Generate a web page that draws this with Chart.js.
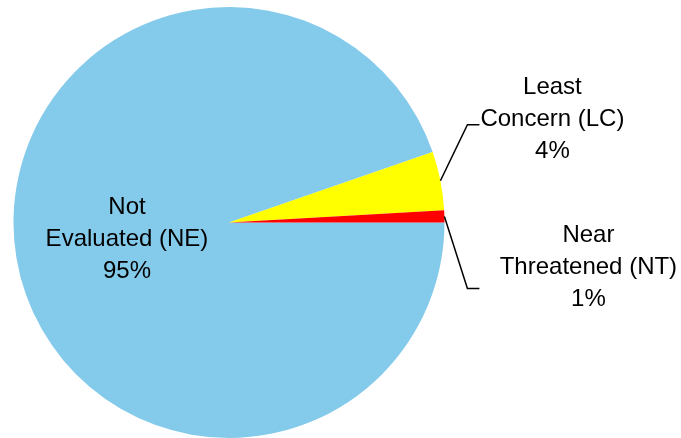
<!DOCTYPE html>
<html>
<head>
<meta charset="utf-8">
<script src="https://cdn.jsdelivr.net/npm/chart.js@4"></script>
<style>
  html, body { margin: 0; padding: 0; background: #fff; }
  #wrap { width: 681px; height: 438px; }
</style>
</head>
<body>
<div id="wrap"><canvas id="pieChart"></canvas></div>
<script>
// categories and values (percent of species)
const categories = ['Not Evaluated (NE)', 'Least Concern (LC)', 'Near Threatened (NT)'];
const labelLines = [['Not', 'Evaluated (NE)'], ['Least', 'Concern (LC)'], ['Near', 'Threatened (NT)']];
const shares = [94.7, 4.4, 0.9];
const colors = ['#84CAEB', '#FFFF00', '#FF0000'];

// label placement: 'inside' at a fraction of the radius, or outside with a leader line
// offsets are relative to the rim point at the slice's mid angle
const labelPlacement = [
  { inside: true, r: 0.48 },
  { dx: 112, dy: -61, elbowX: 27, elbowY: -56, endX: 39 },
  { dx: 144, dy: 51, elbowX: 23, elbowY: 72, endX: 35 }
];

const FONT = '24px "Liberation Sans", Arial, sans-serif';
const LINE_H = 32;

const pieLabels = {
  id: 'pieLabels',
  afterDatasetsDraw(chart) {
    const ctx = chart.ctx;
    const meta = chart.getDatasetMeta(0);
    const total = shares.reduce((a, b) => a + b, 0);
    ctx.save();
    ctx.font = FONT;
    ctx.fillStyle = '#000';
    ctx.textAlign = 'center';
    ctx.textBaseline = 'middle';
    meta.data.forEach((arc, i) => {
      const p = arc.getProps(['x', 'y', 'startAngle', 'endAngle', 'outerRadius'], true);
      const mid = (p.startAngle + p.endAngle) / 2;
      const pct = Math.round(shares[i] / total * 100) + '%';
      const lines = labelLines[i].concat([pct]);
      const pl = labelPlacement[i];
      let cx, cy;
      if (pl.inside) {
        cx = p.x + Math.cos(mid) * p.outerRadius * pl.r;
        cy = p.y + Math.sin(mid) * p.outerRadius * pl.r;
      } else {
        const rx = p.x + Math.cos(mid) * p.outerRadius;
        const ry = p.y + Math.sin(mid) * p.outerRadius;
        ctx.beginPath();
        ctx.strokeStyle = '#000';
        ctx.lineWidth = 1.5;
        ctx.moveTo(rx, ry);
        ctx.lineTo(rx + pl.elbowX, ry + pl.elbowY);
        ctx.lineTo(rx + pl.endX, ry + pl.elbowY);
        ctx.stroke();
        cx = rx + pl.dx;
        cy = ry + pl.dy;
      }
      lines.forEach((t, k) => {
        ctx.fillText(t, cx, cy + (k - 1) * LINE_H);
      });
    });
    ctx.restore();
  }
};

new Chart(document.getElementById('pieChart'), {
  type: 'pie',
  data: {
    labels: categories,
    datasets: [{
      data: shares,
      backgroundColor: colors,
      borderWidth: 0
    }]
  },
  options: {
    responsive: true,
    maintainAspectRatio: false,
    animation: false,
    rotation: 90,
    layout: { padding: { left: 13, right: 236, top: 7, bottom: 0 } },
    plugins: {
      legend: { display: false },
      tooltip: { enabled: false }
    }
  },
  plugins: [pieLabels]
});
</script>
</body>
</html>
